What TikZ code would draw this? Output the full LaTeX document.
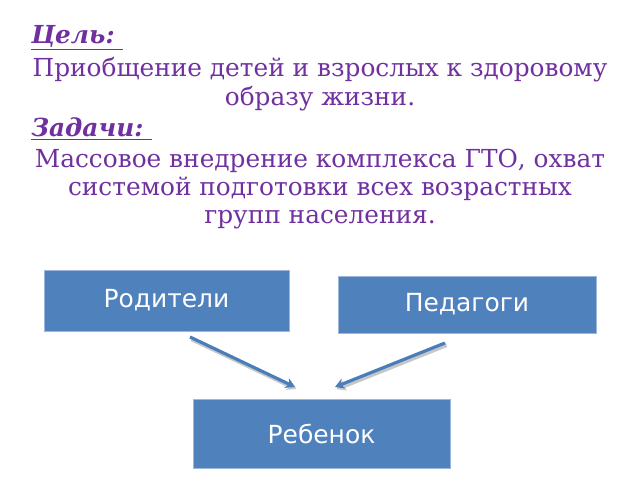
\documentclass[tikz,border=0pt]{standalone}
\usepackage{fontspec}
\setmainfont{DejaVu Serif}
\newfontfamily\boxfont{DejaVu Sans}
\usetikzlibrary{arrows.meta}
\definecolor{txtpurple}{HTML}{7030A0}
\definecolor{boxblue}{HTML}{4F81BD}
\definecolor{boxedge}{HTML}{9DB6DC}
\definecolor{arrowblue}{HTML}{4A7EBB}
\tikzset{
  para/.style={text=txtpurple, font=\fontsize{18.6}{21.3}\selectfont, align=center, inner sep=0pt},
  head/.style={text=txtpurple, font=\fontsize{18.6}{21.3}\selectfont\bfseries\itshape, inner sep=0pt, anchor=west},
  bluebox/.style={fill=boxblue, draw=boxedge, line width=0.6pt, text=white, font=\boxfont\fontsize{18.7}{21}\selectfont, inner sep=0pt},
  flow/.style={draw=arrowblue, line width=2.4pt, -{Stealth[length=7pt,width=8pt]}},
  flowshadow/.style={draw=black!22, line width=3.2pt, -{Stealth[length=7pt,width=8pt]}}
}
\begin{document}
\begin{tikzpicture}[x=0.75pt,y=-0.75pt]
\useasboundingbox (0,0) rectangle (640,480);
\node[head] (goalh) at (31,38) {\underline{Цель:~}};
\node[para] (goal) at (320,84) {Приобщение детей и взрослых к здоровому\\образу жизни.};
\node[head] (taskh) at (31,129) {\underline{Задачи:~}};
\node[para] (task) at (320,189) {Массовое внедрение комплекса ГТО, охват\\системой подготовки всех возрастных\\групп населения.};
\node[bluebox, minimum width=245*0.75pt, minimum height=61*0.75pt] (par) at (166.5,300.5) {Родители};
\node[bluebox, minimum width=258*0.75pt, minimum height=57*0.75pt] (ped) at (467,304.5) {Педагоги};
\node[bluebox, minimum width=257*0.75pt, minimum height=69*0.75pt] (kid) at (321.5,433.5) {Ребенок};
\coordinate (a1s) at (190,337);
\coordinate (a1e) at (295,387);
\coordinate (a2s) at (445,343);
\coordinate (a2e) at (335,387);
\draw[flowshadow] ([shift={(1.5,2)}]a1s) -- ([shift={(1.5,2)}]a1e);
\draw[flowshadow] ([shift={(1.5,2)}]a2s) -- ([shift={(1.5,2)}]a2e);
\draw[flow] (a1s) -- (a1e);
\draw[flow] (a2s) -- (a2e);
\end{tikzpicture}
\end{document}
